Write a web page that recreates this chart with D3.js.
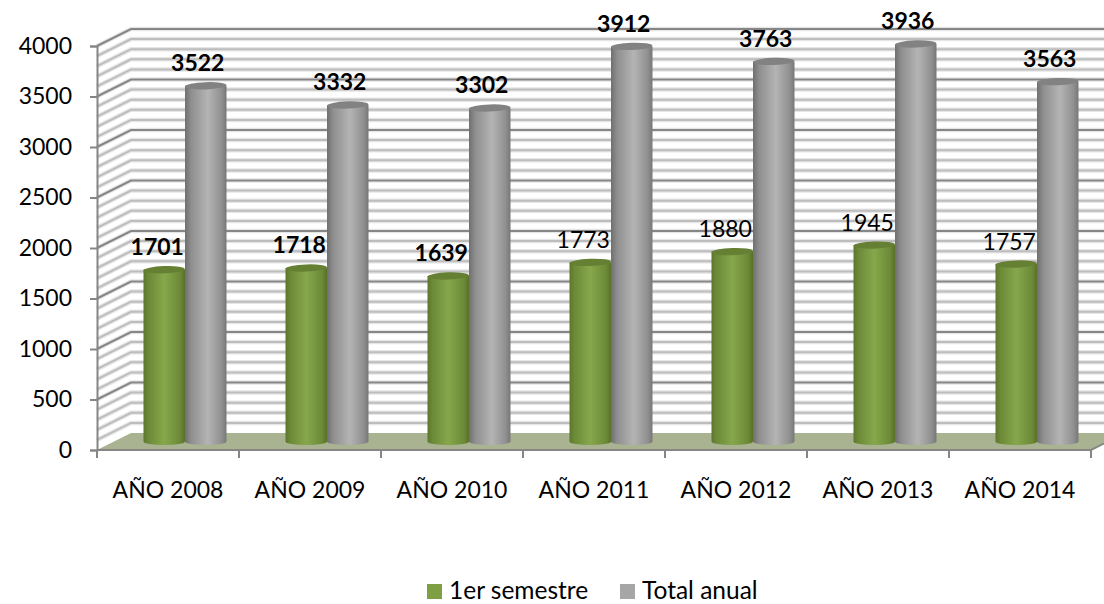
<!DOCTYPE html>
<html>
<head>
<meta charset="utf-8">
<script src="https://cdnjs.cloudflare.com/ajax/libs/d3/7.8.5/d3.min.js"></script>
<style>
    html, body { margin: 0; padding: 0; background: #fff; }
    svg { display: block; }
    text { font-family: Lato, "Open Sans", sans-serif; fill: #000; }
</style>
</head>
<body>
<div id="chart"></div>
<script>
const years = ['AÑO 2008', 'AÑO 2009', 'AÑO 2010', 'AÑO 2011', 'AÑO 2012', 'AÑO 2013', 'AÑO 2014'];
const firstSemester = [1701, 1718, 1639, 1773, 1880, 1945, 1757];
const yearTotal = [3522, 3332, 3302, 3912, 3763, 3936, 3563];
const boldFirstSemester = [true, true, true, false, false, false, false];
const seriesNames = ['1er semestre', 'Total anual'];
const majorTicks = [0, 500, 1000, 1500, 2000, 2500, 3000, 3500, 4000];
const minorTicks = d3.range(0, 4001, 100);

const width = 1104, height = 604;
const depthX = 34, depthY = 17;
const barW = 41.5;

const svg = d3.select('#chart').append('svg')
    .attr('width', width)
    .attr('height', height);

const x = d3.scaleBand().domain(years).range([97, 1091]);
const y = d3.scaleLinear().domain([0, 4000]).range([450, 46]);

// horizontal gradients for the cylinders
const defs = svg.append('defs');
function cylinderGradient(id, stops) {
    const g = defs.append('linearGradient').attr('id', id);
    stops.forEach(s => g.append('stop').attr('offset', s[0]).attr('stop-color', s[1]));
}
cylinderGradient('greenBar', [[0, '#5c762d'], [0.12, '#6c8a37'], [0.5, '#87a74c'], [0.88, '#6c8a37'], [1, '#587029']]);
cylinderGradient('grayBar', [[0, '#6f6f6f'], [0.15, '#8f8f8f'], [0.55, '#b4b4b4'], [0.88, '#909090'], [1, '#777777']]);

// path of one gridline: side wall, then back wall
const gridPath = d => `M${x.range()[0]},${y(d)}L${x.range()[0] + depthX},${y(d) - depthY}H${x.range()[1] + depthX}`;

// back wall gridlines, with the soft halo they have in the picture
const wall = svg.append('g').attr('fill', 'none');
wall.selectAll('.halo')
    .data(minorTicks.filter(d => d > 0))
    .join('path')
    .attr('stroke', '#e6e6e6')
    .attr('stroke-width', 4.5)
    .attr('d', gridPath);
wall.selectAll('.minor')
    .data(minorTicks.filter(d => d % 500 !== 0))
    .join('path')
    .attr('stroke', '#bdbdbd')
    .attr('stroke-width', 2)
    .attr('d', gridPath);
wall.selectAll('.major')
    .data(majorTicks.filter(d => d > 0))
    .join('path')
    .attr('stroke', '#868686')
    .attr('stroke-width', 2)
    .attr('d', gridPath);

// floor
svg.append('path')
    .attr('fill', '#a9b391')
    .attr('d', `M${x.range()[0]},${y(0)}L${x.range()[0] + depthX},${y(0) - depthY}H${x.range()[1] + depthX}L${x.range()[1]},${y(0)}Z`);
svg.append('path')
    .attr('fill', 'none')
    .attr('stroke', '#868686')
    .attr('stroke-width', 2)
    .attr('d', `M${x.range()[0]},${y(0)}H${x.range()[1]}L${x.range()[1] + depthX},${y(0) - depthY}`);

// axes
const yAxis = svg.append('g')
    .attr('transform', `translate(${x.range()[0]},0)`)
    .call(d3.axisLeft(y).tickValues(majorTicks).tickSize(7).tickPadding(18).tickFormat(d3.format('d')));
const xAxis = svg.append('g')
    .attr('transform', `translate(0,${y(0)})`)
    .call(d3.axisBottom(x).tickSize(0).tickPadding(32));
[yAxis, xAxis].forEach(a => {
    a.selectAll('.domain').attr('stroke', '#868686').attr('stroke-width', 2);
    a.selectAll('line').attr('stroke', '#868686').attr('stroke-width', 2);
    a.selectAll('text').style('font-family', 'Lato').style('font-size', '23px');
});
xAxis.select('.domain').remove();
svg.append('g').selectAll('line')
    .data(d3.range(years.length + 1))
    .join('line')
    .attr('x1', i => x.range()[0] + i * x.step())
    .attr('x2', i => x.range()[0] + i * x.step())
    .attr('y1', y(0))
    .attr('y2', y(0) + 8)
    .attr('stroke', '#868686')
    .attr('stroke-width', 2);

// a cylinder standing mid way into the depth of the floor
function drawCylinder(g, left, value, fill, topColor) {
    const rx = barW / 2, ry = 3.6;
    const top = y(value) - depthY / 2;
    const base = y(0) - depthY / 2;
    g.append('path')
        .attr('fill', `url(#${fill})`)
        .attr('d', `M${left},${top}V${base}A${rx},${ry} 0 0 0 ${left + barW},${base}V${top}Z`);
    g.append('ellipse')
        .attr('cx', left + rx)
        .attr('cy', top)
        .attr('rx', rx)
        .attr('ry', ry)
        .attr('transform', `rotate(-2 ${left + rx} ${top})`)
        .attr('fill', topColor);
}

const bars = svg.append('g');
years.forEach((year, i) => {
    const mid = x(year) + x.bandwidth() / 2 + depthX / 2;
    drawCylinder(bars, mid - barW, firstSemester[i], 'greenBar', '#657f33');
    drawCylinder(bars, mid, yearTotal[i], 'grayBar', '#828282');
});

// data labels
const labels = svg.append('g').attr('text-anchor', 'middle').style('font-size', '23px');
years.forEach((year, i) => {
    const mid = x(year) + x.bandwidth() / 2 + depthX / 2;
    labels.append('text')
        .attr('x', mid - barW / 2 - 7)
        .attr('y', y(firstSemester[i]) - depthY / 2 - 14.5)
        .attr('font-weight', boldFirstSemester[i] ? 700 : 400)
        .text(firstSemester[i]);
    labels.append('text')
        .attr('x', mid + barW / 2 - 8)
        .attr('y', y(yearTotal[i]) - depthY / 2 - 14.5)
        .attr('font-weight', 700)
        .text(yearTotal[i]);
});

// legend
const legendX = [427, 620];
const legendColors = ['#7f9f45', '#a6a6a6'];
const legend = svg.append('g');
seriesNames.forEach((name, i) => {
    legend.append('rect')
        .attr('x', legendX[i])
        .attr('y', 584)
        .attr('width', 15)
        .attr('height', 15)
        .attr('fill', legendColors[i]);
    legend.append('text')
        .attr('x', legendX[i] + 22)
        .attr('y', 598.5)
        .style('font-size', '24.5px')
        .text(name);
});
</script>
</body>
</html>
